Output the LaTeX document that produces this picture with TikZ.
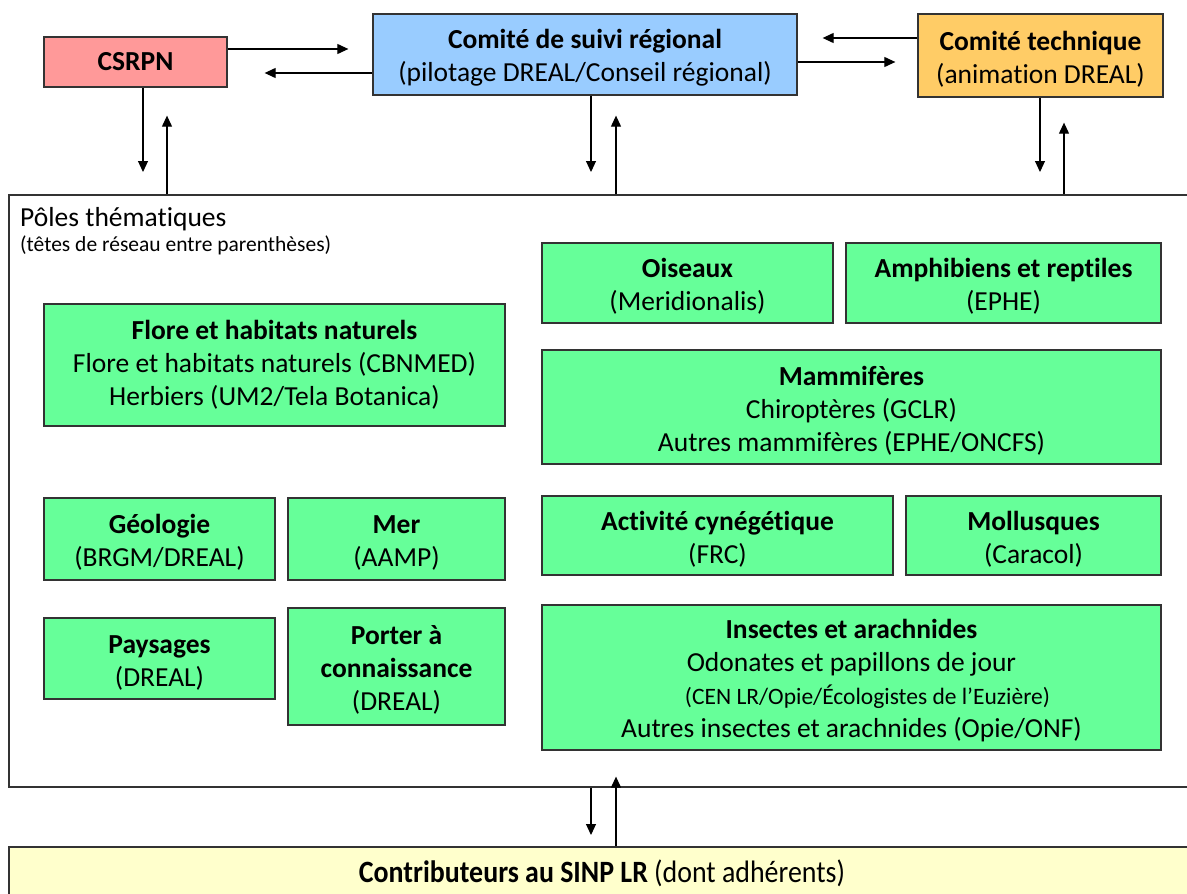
\documentclass[tikz,border=0pt]{standalone}
\usepackage{fontspec}
\setmainfont{Carlito}[Ligatures=NoCommon]
\usetikzlibrary{arrows.meta}
\definecolor{cpink}{HTML}{FF9999}
\definecolor{cblue}{HTML}{99CCFF}
\definecolor{corange}{HTML}{FFCC66}
\definecolor{cgreen}{HTML}{66FF99}
\definecolor{cyellow}{HTML}{FFFFCC}
\tikzset{
  box/.style={draw=black!80, line width=1.3pt, inner sep=0pt, align=center,
    font=\fontsize{27.5}{33}\selectfont},
  gbox/.style={box, fill=cgreen},
  arr/.style={-{Triangle[length=11pt,width=10pt]}, line width=1.1pt, black},
}
\newcommand{\bt}[1]{\textbf{#1}}
\newcommand{\up}{\rule{0pt}{26pt}}
\begin{document}
\begin{tikzpicture}[x=1pt,y=-1pt]
\useasboundingbox (0,0) rectangle (1187,894);
\clip (0,0) rectangle (1187,894);
% frames
\node[box, fill=white, minimum width=1186pt, minimum height=592pt] (poles) at (602,491) {};
\node[box, fill=cyellow, minimum width=1186pt, minimum height=52pt] (contrib) at (602,873)
  {\fontsize{31}{32}\selectfont\scalebox{0.9}[1]{\bt{Contributeurs au SINP LR} (dont adhérents)}};
\node[anchor=base west, inner sep=0pt, font=\fontsize{27.5}{30}\selectfont] (ptitle) at (20,226) {Pôles thématiques};
\node[anchor=base west, inner sep=0pt, font=\fontsize{21.5}{24}\selectfont] (psub) at (20,251) {(têtes de réseau entre parenthèses)};
% top boxes
\node[box, fill=cpink, minimum width=183pt, minimum height=50pt] (csrpn) at (135.5,62) {\bt{CSRPN}};
\node[box, fill=cblue, minimum width=424pt, minimum height=81pt] (suivi) at (585,54.5)
  {\up\bt{Comité de suivi régional}\\(pilotage DREAL/Conseil régional)};
\node[box, fill=corange, minimum width=245pt, minimum height=83pt] (tech) at (1040.5,55.5)
  {\up\bt{Comité technique}\\(animation DREAL)};
% green boxes
\node[gbox, minimum width=291pt, minimum height=80pt] (ois) at (687.5,283) {\up\bt{Oiseaux}\\(Meridionalis)};
\node[gbox, minimum width=315pt, minimum height=80pt] (amph) at (1003.5,283) {\up\bt{Amphibiens et reptiles}\\(EPHE)};
\node[gbox, minimum width=619pt, minimum height=114pt] (mamm) at (851.5,407)
  {\up\bt{Mammifères}\\Chiroptères (GCLR)\\Autres mammifères (EPHE/ONCFS)};
\node[gbox, minimum width=351pt, minimum height=79pt] (chasse) at (717.5,535.5) {\up\bt{Activité cynégétique}\\(FRC)};
\node[gbox, minimum width=255pt, minimum height=79pt] (moll) at (1033.5,535.5) {\up\bt{Mollusques}\\(Caracol)};
\node[gbox, minimum width=619pt, minimum height=145pt] (ins) at (851.5,677.5)
  {\up\bt{Insectes et arachnides}\\Odonates et papillons de jour\\{\fontsize{23.5}{33}\selectfont\hspace*{32pt}(CEN LR/Opie/Écologistes de l’Euzière)}\\Autres insectes et arachnides (Opie/ONF)};
\node[gbox, minimum width=461pt, minimum height=122pt] (flore) at (274.5,365)
  {\bt{Flore et habitats naturels}\\Flore et habitats naturels (CBNMED)\\Herbiers (UM2/Tela Botanica)};
\node[gbox, minimum width=231pt, minimum height=82pt] (geol) at (159.5,539) {\up\bt{Géologie}\\(BRGM/DREAL)};
\node[gbox, minimum width=217pt, minimum height=82pt] (mer) at (396.5,539) {\up\bt{Mer}\\(AAMP)};
\node[gbox, minimum width=231pt, minimum height=81pt] (pays) at (159.5,658.5) {\up\bt{Paysages}\\(DREAL)};
\node[gbox, minimum width=217pt, minimum height=117pt] (porter) at (396.5,666.5) {\up\bt{Porter à}\\\bt{connaissance}\\(DREAL)};
% connectors
\draw[arr] (csrpn.east |- 0,49) -- ([xshift=-24pt]suivi.west |- 0,49);
\draw[arr] (suivi.west |- 0,73) -- ([xshift=37pt]csrpn.east |- 0,73);
\draw[arr] (tech.west |- 0,38) -- ([xshift=25pt]suivi.east |- 0,38);
\draw[arr] (suivi.east |- 0,62) -- ([xshift=-22pt]tech.west |- 0,62);
\draw[arr] (csrpn.south -| 143,0) -- (143,172);
\draw[arr] (poles.north -| 167,0) -- ([yshift=-28pt]csrpn.south -| 167,0);
\draw[arr] (suivi.south -| 591,0) -- (591,172);
\draw[arr] (poles.north -| 616,0) -- ([yshift=-20pt]suivi.south -| 616,0);
\draw[arr] (tech.south -| 1040,0) -- (1040,172);
\draw[arr] (poles.north -| 1064,0) -- ([yshift=-25pt]tech.south -| 1064,0);
\draw[arr] (poles.south -| 591,0) -- (591,835);
\draw[arr] (contrib.north -| 616,0) -- ([yshift=11pt]poles.south -| 616,0);
\end{tikzpicture}
\end{document}
